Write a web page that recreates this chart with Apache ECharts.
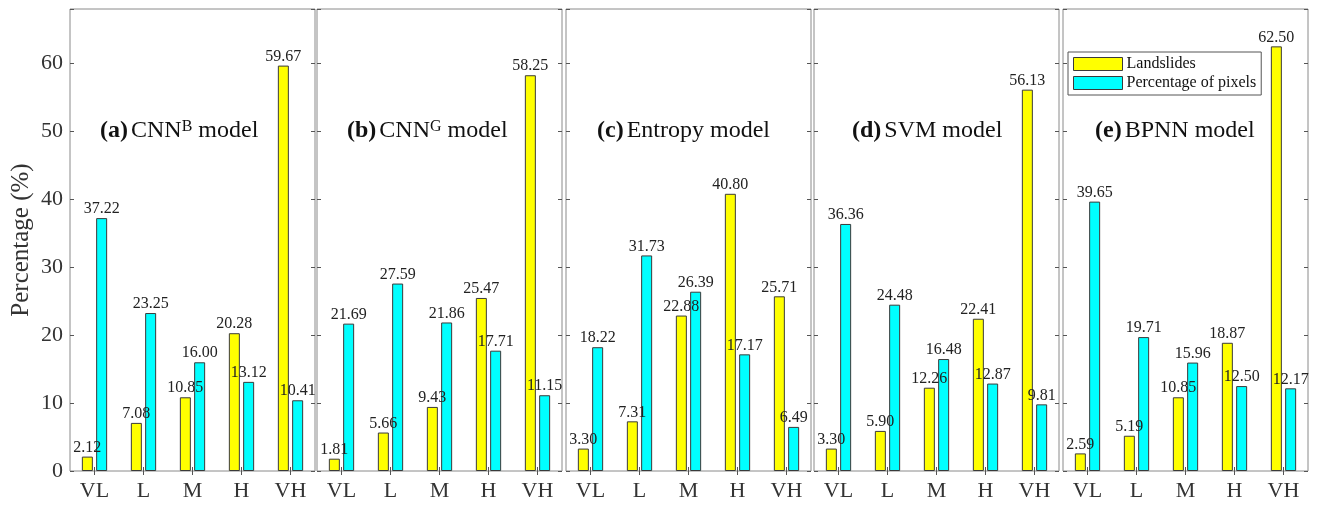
<!DOCTYPE html>
<html>
<head>
<meta charset="utf-8">
<script src="https://cdn.jsdelivr.net/npm/echarts@6/dist/echarts.min.js"></script>
<style>html,body{margin:0;padding:0;background:#fff;}#c{width:1317px;height:507px;}</style>
</head>
<body>
<div id="c"></div>
<script>
var categories = ['VL', 'L', 'M', 'H', 'VH'];
var seriesNames = ['Landslides', 'Percentage of pixels'];
var panelTitles = [
  ['(a)', 'CNN', 'B', ' model'],
  ['(b)', 'CNN', 'G', ' model'],
  ['(c)', 'Entropy model', '', ''],
  ['(d)', 'SVM model', '', ''],
  ['(e)', 'BPNN model', '', '']
];
var landslides = [
  [2.12, 7.08, 10.85, 20.28, 59.67],
  [1.81, 5.66, 9.43, 25.47, 58.25],
  [3.30, 7.31, 22.88, 40.80, 25.71],
  [3.30, 5.90, 12.26, 22.41, 56.13],
  [2.59, 5.19, 10.85, 18.87, 62.50]
];
var pixels = [
  [37.22, 23.25, 16.00, 13.12, 10.41],
  [21.69, 27.59, 21.86, 17.71, 11.15],
  [18.22, 31.73, 26.39, 17.17, 6.49],
  [36.36, 24.48, 16.48, 12.87, 9.81],
  [39.65, 19.71, 15.96, 12.50, 12.17]
];
var yTicks = [0, 10, 20, 30, 40, 50, 60];

var FONT = '"Liberation Serif", "Times New Roman", serif';
var gridLefts = [70, 317, 566, 814, 1063];
var titleLefts = [100, 347, 597, 852, 1095];
var GW = 245, GT = 9, GH = 462;
var YMAX = 68;

var grids = [], xAxes = [], yAxes = [], series = [], titles = [];
for (var i = 0; i < 5; i++) {
  grids.push({left: gridLefts[i], top: GT, width: GW, height: GH, show: true,
    borderColor: '#8a8a8a', borderWidth: 1, backgroundColor: 'transparent'});
  xAxes.push({type: 'category', gridIndex: i, data: categories, position: 'bottom',
    axisLine: {show: false},
    axisTick: {show: true, inside: true, length: 4, alignWithLabel: true, lineStyle: {color: '#555'}},
    axisLabel: {fontFamily: FONT, fontSize: 22, color: '#333', margin: 9}});
  xAxes.push({type: 'category', gridIndex: i, data: categories, position: 'top',
    axisLine: {show: false},
    axisTick: {show: true, inside: true, length: 4, alignWithLabel: true, lineStyle: {color: '#555'}},
    axisLabel: {show: false}});
  yAxes.push({type: 'value', gridIndex: i, min: 0, max: YMAX, interval: 10, position: 'left',
    axisLine: {show: false}, splitLine: {show: false},
    axisTick: {show: true, inside: true, length: 4, lineStyle: {color: '#555'}},
    axisLabel: {show: i === 0, fontFamily: FONT, fontSize: 22, color: '#333', margin: 7,
      formatter: function (v) { return yTicks.indexOf(v) >= 0 ? String(v) : ''; }},
    name: i === 0 ? 'Percentage (%)' : '', nameLocation: 'middle', nameGap: 36,
    nameTextStyle: {fontFamily: FONT, fontSize: 25, color: '#333'}});
  yAxes.push({type: 'value', gridIndex: i, min: 0, max: YMAX, interval: 10, position: 'right',
    axisLine: {show: false}, splitLine: {show: false},
    axisTick: {show: true, inside: true, length: 4, lineStyle: {color: '#555'}},
    axisLabel: {show: false}});
  var lbl = {show: true, position: 'top', distance: 1, fontFamily: FONT, fontSize: 16, color: '#222',
    formatter: function (p) { return p.value.toFixed(2); }};
  series.push({name: seriesNames[0], type: 'bar', xAxisIndex: 2 * i, yAxisIndex: 2 * i,
    data: landslides[i], barWidth: 11, barGap: '30%',
    itemStyle: {color: '#ffff00', borderColor: '#3a3a3a', borderWidth: 1},
    label: lbl, z: 3});
  series.push({name: seriesNames[1], type: 'bar', xAxisIndex: 2 * i, yAxisIndex: 2 * i,
    data: pixels[i], barWidth: 11, barGap: '30%',
    itemStyle: {color: '#00ffff', borderColor: '#3a3a3a', borderWidth: 1},
    label: lbl, z: 3});
  var t = panelTitles[i];
  var txt = '{b|' + t[0] + '}{n|' + t[1] + '}' + (t[2] ? '{s|' + t[2] + '}' : '') + (t[3] ? '{m|' + t[3] + '}' : '');
  titles.push({left: titleLefts[i], top: 117, padding: 0, text: txt,
    textStyle: {fontWeight: 'normal', rich: {
      b: {fontFamily: FONT, fontSize: 24, fontWeight: 'bold', color: '#111', lineHeight: 28},
      n: {fontFamily: FONT, fontSize: 24, fontWeight: 'normal', color: '#111', lineHeight: 28, padding: [0, 0, 0, 3]},
      m: {fontFamily: FONT, fontSize: 24, fontWeight: 'normal', color: '#111', lineHeight: 28},
      s: {fontFamily: FONT, fontSize: 16, fontWeight: 'normal', color: '#111', lineHeight: 28, padding: [0, 0, 9, 0]}
    }}});
}

var chart = echarts.init(document.getElementById('c'), null, {renderer: 'canvas'});
chart.setOption({
  animation: false,
  backgroundColor: '#fff',
  title: titles,
  legend: {data: seriesNames, orient: 'vertical', left: 1068, top: 52, padding: [4, 5, 4, 5],
    itemWidth: 49, itemHeight: 13, itemGap: 3, borderColor: '#555', borderWidth: 1,
    backgroundColor: '#fff', icon: 'rect',
    textStyle: {fontFamily: FONT, fontSize: 16, color: '#111', padding: [0, 0, 0, -1]},
    itemStyle: {borderColor: '#3a3a3a', borderWidth: 1}},
  grid: grids,
  xAxis: xAxes,
  yAxis: yAxes,
  series: series
});
</script>
</body>
</html>
